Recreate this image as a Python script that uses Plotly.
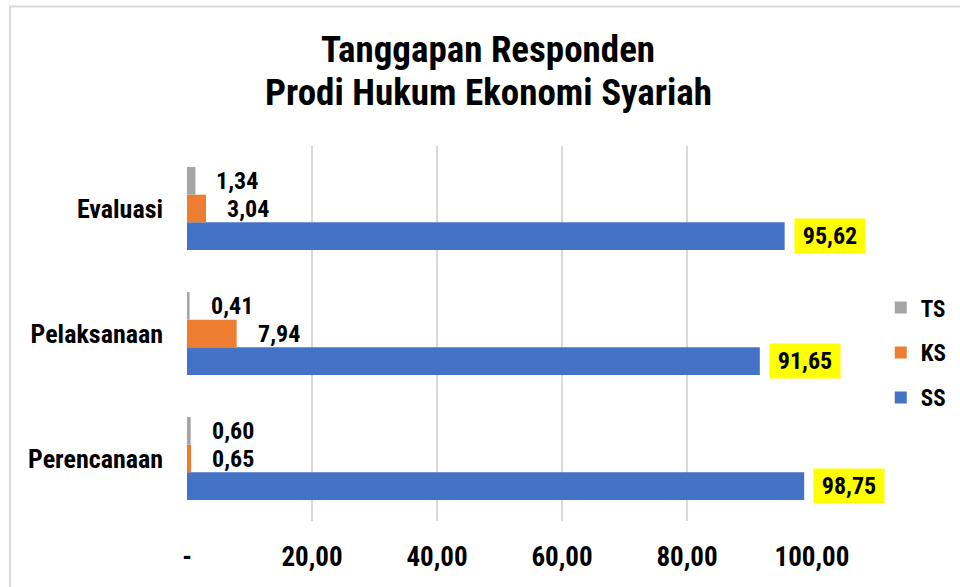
import plotly.graph_objects as go

# Categories (bottom to top) and series values
categories = ["Perencanaan", "Pelaksanaan", "Evaluasi"]
ss_values = [98.75, 91.65, 95.62]
ks_values = [0.65, 7.94, 3.04]
ts_values = [0.60, 0.41, 1.34]

tick_values = [0, 20, 40, 60, 80, 100]
tick_labels = ["-", "20,00", "40,00", "60,00", "80,00", "100,00"]

FONT = "Roboto Condensed, Open Sans Condensed, Arial Narrow, sans-serif"
BLUE = "#4472C4"
ORANGE = "#ED7D31"
GRAY = "#A5A5A5"
GRID = "#D9D9D9"

BARGAP = 0.336

def fmt(v):
    return f"{v:.2f}".replace(".", ",")

# (name, values, colour, legend rank: TS listed first)
series = [("SS", ss_values, BLUE, 3), ("KS", ks_values, ORANGE, 2), ("TS", ts_values, GRAY, 1)]
ypos = list(range(len(categories)))

fig = go.Figure()
for name, vals, color, rank in series:
    fig.add_trace(go.Bar(
        name=name, x=vals, y=ypos, orientation="h",
        marker=dict(color=color, line=dict(width=0)),
        legendgroup=name, legendrank=rank, hoverinfo="x+name",
    ))

# Data labels next to each bar, placed at the bar's slot inside the group
group_w = 1 - BARGAP
n = len(series)
annotations = []
for k, (name, vals, color, _) in enumerate(series):
    off = -group_w / 2 + (k + 0.5) * group_w / n
    for i, v in enumerate(vals):
        if name == "SS":
            annotations.append(dict(
                x=v, y=i + off, xref="x", yref="y", text=fmt(v),
                showarrow=False, xanchor="left", yanchor="middle", xshift=9,
                bgcolor="#FFFF00", width=70, height=34, borderpad=0,
                font=dict(family=FONT, size=24, color="black", weight="bold"),
            ))
        else:
            annotations.append(dict(
                x=v, y=i + off, xref="x", yref="y", text=fmt(v),
                showarrow=False, xanchor="left", yanchor="middle", xshift=19,
                font=dict(family=FONT, size=24, color="black", weight="bold"),
            ))

# Two-line title
annotations.append(dict(
    x=0.4816, y=1.2568, xref="paper", yref="paper", text="Tanggapan Responden",
    showarrow=False, xanchor="center", yanchor="middle",
    font=dict(family=FONT, size=37, color="black", weight="bold"),
))
annotations.append(dict(
    x=0.4816, y=1.1421, xref="paper", yref="paper", text="Prodi Hukum Ekonomi Syariah",
    showarrow=False, xanchor="center", yanchor="middle",
    font=dict(family=FONT, size=37, color="black", weight="bold"),
))

fig.update_layout(
    width=960, height=587,
    margin=dict(l=187, r=148, t=146, b=66, autoexpand=False),
    paper_bgcolor="white", plot_bgcolor="white",
    barmode="group", bargap=BARGAP, bargroupgap=0,
    showlegend=True,
    legend=dict(
        x=1.110, y=0.449, xanchor="left", yanchor="middle",
        traceorder="grouped", tracegroupgap=12,
        font=dict(family=FONT, size=23, color="black", weight="bold"),
        bgcolor="rgba(0,0,0,0)", itemwidth=30,
    ),
    xaxis=dict(
        range=[0, 100], tickvals=tick_values, ticktext=tick_labels,
        showgrid=True, gridcolor=GRID, gridwidth=2,
        zeroline=False, showline=False, ticks="", automargin=False,
        ticklabelstandoff=17,
        tickfont=dict(family=FONT, size=27, color="black", weight="bold"),
    ),
    yaxis=dict(
        range=[-0.5, len(categories) - 0.5], tickvals=ypos, ticktext=categories,
        showgrid=False, zeroline=False, showline=False, ticks="", automargin=False,
        ticklabelstandoff=23,
        tickfont=dict(family=FONT, size=26, color="black", weight="bold"),
    ),
    annotations=annotations,
    shapes=[dict(
        type="rect", xref="paper", yref="paper",
        x0=-0.2832, x1=1.4, y0=-0.4, y1=1.372,
        line=dict(color=GRID, width=2), layer="below",
    )],
)

fig.write_html("out.html")
